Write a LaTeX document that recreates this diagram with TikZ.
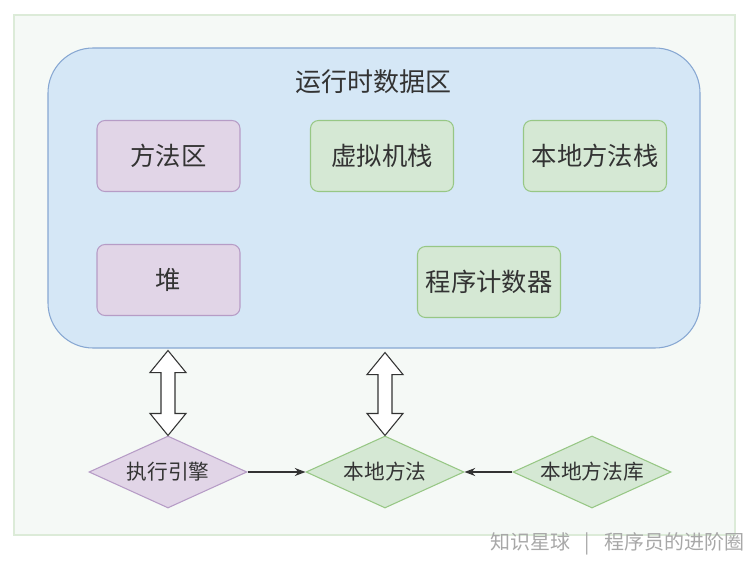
\documentclass[tikz,border=0pt]{standalone}
\usepackage{fontspec}
\setmainfont{Noto Sans CJK SC}
\usetikzlibrary{shapes.geometric,arrows.meta,calc}
\definecolor{txt}{HTML}{333333}
\definecolor{bgfill}{HTML}{F5F9F6}
\definecolor{bgline}{HTML}{DCEBD8}
\definecolor{bluefill}{HTML}{D5E7F6}
\definecolor{blueline}{HTML}{87A7D2}
\definecolor{purfill}{HTML}{E1D5E7}
\definecolor{purline}{HTML}{B69CC6}
\definecolor{grnfill}{HTML}{D5E8D4}
\definecolor{grnline}{HTML}{97C785}
\definecolor{wm}{HTML}{A8A8A8}
\begin{document}
\begin{tikzpicture}[x=0.75pt,y=-0.75pt,
  every node/.style={text=txt},
  area/.style={draw, rounded corners=8*0.75pt, minimum width=143*0.75pt, minimum height=71*0.75pt, font=\fontsize{19}{22}\selectfont, line width=0.8pt},
  purbox/.style={area, fill=purfill, draw=purline},
  grnbox/.style={area, fill=grnfill, draw=grnline},
  dia/.style={diamond, aspect=2, inner sep=0pt, minimum width=158*0.75pt, minimum height=72*0.75pt, font=\fontsize{15.5}{18}\selectfont, line width=0.8pt},
  link/.style={draw=txt, line width=0.8pt, -{Stealth[length=8pt,width=6pt]}},
  dbl/.style={draw=txt, fill=white, line width=0.8pt, line join=miter}
]
\useasboundingbox (0,0) rectangle (750,563);
\node[draw=bgline, fill=bgfill, line width=0.8pt, minimum width=721*0.75pt, minimum height=520*0.75pt, inner sep=0pt] (bg) at (374.5,275) {};
\node[draw=blueline, fill=bluefill, rounded corners=45*0.75pt, minimum width=652*0.75pt, minimum height=300*0.75pt, inner sep=0pt, line width=0.8pt] (rt) at (374,198) {};
\node[font=\fontsize{19.5}{22}\selectfont] (title) at (373,82) {运行时数据区};
\node[purbox] (ma) at (168.5,156) {方法区};
\node[grnbox] (vm) at (382,156) {虚拟机栈};
\node[grnbox] (nms) at (595,156) {本地方法栈};
\node[purbox] (heap) at (168.5,280) {堆};
\node[grnbox] (pc) at (489,282) {程序计数器};
\node[dia, fill=purfill, draw=purline] (ee) at (168,472) {执行引擎};
\node[dia, fill=grnfill, draw=grnline] (nm) at (385,472) {本地方法};
\node[dia, fill=grnfill, draw=grnline] (nml) at (592,472) {本地方法库};
\draw[link] (ee.east) -- (nm.west);
\draw[link] (nml.west) -- (nm.east);
\coordinate (a1) at ($(rt.south -| ee.north)+(0,2)$);
\coordinate (b1) at (ee.north);
\coordinate (a2) at ($(rt.south -| nm.north)+(0,4)$);
\coordinate (b2) at (nm.north);
\foreach \t/\b in {a1/b1,a2/b2}{
  \draw[dbl] (\t) -- ($(\t)+(18,22)$) -- ($(\t)+(7,22)$) -- ($(\b)+(7,-22)$) -- ($(\b)+(18,-22)$) -- (\b) -- ($(\b)+(-18,-22)$) -- ($(\b)+(-7,-22)$) -- ($(\t)+(-7,22)$) -- ($(\t)+(-18,22)$) -- cycle;
}
\node[text=wm, font=\fontsize{15}{16}\selectfont, anchor=east, inner sep=0pt] (wmk) at (745,544) {知识星球\hspace{11pt}|\hspace{11pt}程序员的进阶圈};
\end{tikzpicture}
\end{document}
